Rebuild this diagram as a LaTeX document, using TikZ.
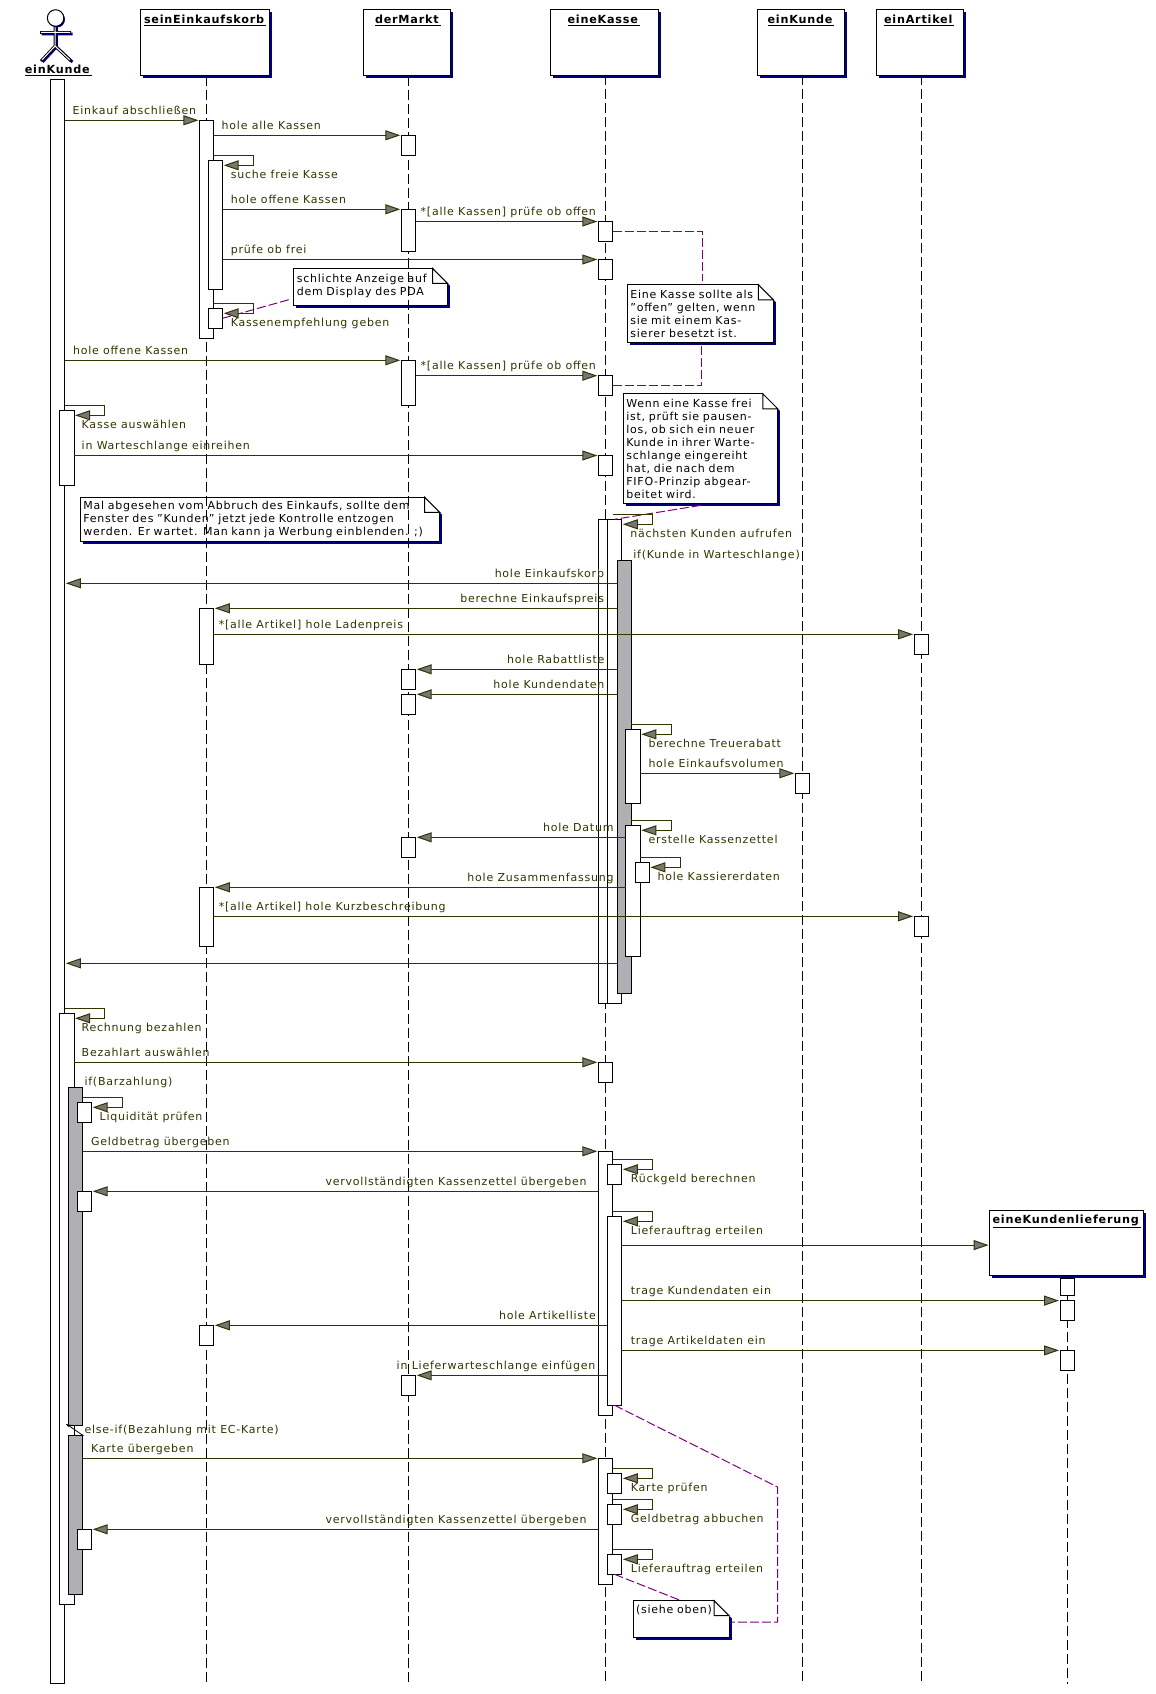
\documentclass[tikz,border=0pt]{standalone}
\usepackage{fontspec}
\setmainfont[LetterSpace=7]{DejaVu Sans}
\usetikzlibrary{arrows.meta,shadows}
\definecolor{msgline}{HTML}{333300}
\definecolor{tipfill}{HTML}{767676}
\definecolor{umlblue}{HTML}{000080}
\definecolor{notelink}{HTML}{800080}
\definecolor{nested}{HTML}{B0B0B4}

\tikzset{
	obj box/.style={draw,fill=white,anchor=north west,inner sep=0pt,outer sep=0pt,
		general shadow={fill=umlblue,shadow xshift=2.5pt,shadow yshift=-2.5pt}},
	obj name/.style={anchor=base west,inner sep=0pt,font=\fontsize{11.2}{13}\selectfont\bfseries},
	note box/.style={obj box,align=left,inner xsep=3pt,inner ysep=0pt,
		font=\fontsize{11}{13}\selectfont},
	act/.style={draw,fill=white,anchor=north,minimum width=14.4pt,inner sep=0pt,outer sep=0pt},
	gray act/.style={act,fill=nested},
	msg/.style={draw=msgline,-{Triangle[length=15pt,width=10pt,fill=tipfill]},shorten >=1pt},
	self call/.style={msg,to path={([yshift=5pt]\tikztotarget.north -| \tikztostart.east) -- ++(40,0)
		|- ([yshift=-5pt]\tikztotarget.north east)}},
	lbl/.style={anchor=base west,inner sep=0pt,text=msgline,font=\fontsize{11}{13}\selectfont},
	rlbl/.style={lbl,anchor=base east},
	link/.style={draw=notelink,dash pattern=on 9pt off 3pt},
	lifeline/.style={dash pattern=on 10pt off 4pt}
}

\begin{document}
\begin{tikzpicture}[x=1pt,y=-1pt,line width=1pt]
	\useasboundingbox (0,0) rectangle (1156,1694);

	% notes lie under everything else
	\node[note box,text width=147.7pt,minimum height=37.4pt] (n1) at (293.8,268.3)
		{schlichte Anzeige auf\\dem Display des PDA\\[-9pt]\mbox{}};
	\node[note box,text width=140pt,minimum height=57.2pt] (n2) at (627.4,284.8)
		{Eine Kasse sollte als\\"offen" gelten, wenn\\sie mit einem Kas-\\sierer besetzt ist.};
	\node[note box,text width=148.5pt,minimum height=109.6pt] (n3) at (623.3,393.8)
		{Wenn eine Kasse frei\\ist, prüft sie pausen-\\los, ob sich ein neuer\\Kunde in ihrer Warte-\\schlange eingereiht\\hat, die nach dem\\FIFO-Prinzip abgear-\\beitet wird.};
	\node[note box,text width=353.2pt,minimum height=44.4pt] (n4) at (80.4,497.3)
		{Mal abgesehen vom Abbruch des Einkaufs, sollte dem\\Fenster des "Kunden" jetzt jede Kontrolle entzogen\\werden. Er wartet. Man kann ja Werbung einblenden. ;)};
	\node[note box,text width=90pt,minimum height=37pt] (n5) at (633,1600.6)
		{(siehe oben)\\[6pt]\mbox{}};
	\foreach \n in {n1,n2,n3,n4,n5} {
		\fill[white] ([xshift=-15pt,yshift=1pt]\n.north east) -- ++(22pt,0pt) -- ++(0pt,-22pt) -- ([yshift=-15pt]\n.north east) -- cycle;
		\draw ([xshift=-15pt]\n.north east) |- ([yshift=-15pt]\n.north east) -- cycle;
	}

	% the objects
	\node[obj box,minimum width=129pt,minimum height=65.7pt] (korb) at (140.4,10) {};
	\node[obj box,minimum width=87pt,minimum height=65.7pt] (markt) at (363.4,10) {};
	\node[obj box,minimum width=108pt,minimum height=65pt] (kasse) at (550.3,10) {};
	\node[obj box,minimum width=87pt,minimum height=65pt] (kunde) at (757.5,10) {};
	\node[obj box,minimum width=87.6pt,minimum height=65pt] (artikel) at (876,10) {};
	\node[obj box,minimum width=154pt,minimum height=65.2pt] (liefer) at (989.6,1210.5) {};

	\node[obj name] (t1) at (143.5,23.5) {\underline{seinEinkaufskorb\,}};
	\node[obj name] (t2) at (374.5,23.5) {\underline{derMarkt\,}};
	\node[obj name] (t3) at (567,23.5) {\underline{eineKasse\,}};
	\node[obj name] (t4) at (767,23.5) {\underline{einKunde\,}};
	\node[obj name] (t5) at (883.5,23.5) {\underline{einArtikel\,}};
	\node[obj name] (t6) at (992,1223.5) {\underline{eineKundenlieferung\,}};
	\node[obj name] (t7) at (24.3,74) {\underline{einKunde\,}};

	% the actor
	\draw[umlblue,line width=2.8pt] (56.5,26) -- (56.5,47) (41.5,34) -- (72.5,34) (42.5,62) -- (56.5,47) -- (72.5,62);
	\draw[line width=2.8pt] (55,26) -- (55,46) (40,32.5) -- (71,32.5) (41,61) -- (55,46) -- (71,61);
	\draw[white,line width=1pt] (55,25) -- (55,46) (41,32.5) -- (70,32.5) (42,60) -- (55,46) -- (70,60);
	\fill[umlblue] (57,19.5) circle (8);
	\node[draw,fill=white,circle,minimum size=16.5pt,inner sep=0pt] (head) at (55.6,18) {};

	% lifelines
	\coordinate (bottom) at (0,1684);
	\foreach \n in {korb,markt,kasse,kunde,artikel} {
		\draw[lifeline] ([xshift=1.5pt]\n.south) -- ([xshift=1.5pt]\n.south |- bottom);
	}
	\draw[lifeline] ([xshift=.4pt]liefer.south) -- ([xshift=.4pt]liefer.south |- bottom);

	% activations of the actor
	\node[act,minimum height=1603.7pt] (1) at (57.6,79.3) {};
	\node[act,minimum height=75.4pt] (2) at (66.8,410.3) {};
	\node[act,minimum height=591pt] (3) at (66.8,1013.3) {};
	\node[gray act,minimum height=338pt] (4) at (75.5,1087.3) {};
	\node[gray act,minimum height=159pt] (5) at (75.5,1435.3) {};
	\node[act,minimum height=20pt] (6) at (84.5,1102.3) {};
	\node[act,minimum height=20pt] (7) at (84.5,1191.3) {};
	\node[act,minimum height=20pt] (8) at (84.5,1529.3) {};

	% activations of seinEinkaufskorb
	\node[act,minimum height=218pt] (11) at (206.6,120.3) {};
	\node[act,minimum height=129pt] (12) at (215.5,160.3) {};
	\node[act,minimum height=20pt] (13) at (215.5,308.3) {};
	\node[act,minimum height=56pt] (14) at (206.6,608.3) {};
	\node[act,minimum height=59pt] (15) at (206.6,887.3) {};
	\node[act,minimum height=20pt] (16) at (206.6,1325.3) {};

	% activations of derMarkt
	\node[act,minimum height=20pt] (21) at (408.5,135.3) {};
	\node[act,minimum height=42pt] (22) at (408.5,209.3) {};
	\node[act,minimum height=45.4pt] (23) at (408.5,360.3) {};
	\node[act,minimum height=20pt] (24) at (408.5,669.3) {};
	\node[act,minimum height=20pt] (25) at (408.5,694.3) {};
	\node[act,minimum height=20pt] (26) at (408.5,837.3) {};
	\node[act,minimum height=20pt] (27) at (408.5,1375.3) {};

	% activations of eineKasse
	\node[act,minimum height=20pt] (31) at (605.5,221.5) {};
	\node[act,minimum height=20pt] (32) at (605.5,259.5) {};
	\node[act,minimum height=20pt] (33) at (605.5,375.7) {};
	\node[act,minimum height=20pt] (34) at (605.5,455.5) {};
	\node[act,minimum height=484pt] (35) at (605.5,519.3) {};
	\node[act,minimum height=484pt] (36) at (614.6,519.3) {};
	\node[gray act,minimum height=433pt] (37) at (624.2,560.3) {};
	\node[act,minimum height=74pt] (38) at (633.1,729.3) {};
	\node[act,minimum height=131pt] (39) at (633.1,825.3) {};
	\node[act,minimum height=20pt] (40) at (642.2,862.3) {};
	\node[act,minimum height=20pt] (41) at (605.5,1062.3) {};
	\node[act,minimum height=264pt] (42) at (605.5,1151.3) {};
	\node[act,minimum height=20pt] (43) at (614.6,1164.3) {};
	\node[act,minimum height=189pt] (44) at (614.6,1216.3) {};
	\node[act,minimum height=126pt] (45) at (605.5,1458.3) {};
	\node[act,minimum height=20pt] (46) at (614.6,1473.3) {};
	\node[act,minimum height=20pt] (47) at (614.6,1504.3) {};
	\node[act,minimum height=20pt] (48) at (614.6,1554.3) {};

	% activations of the other three
	\node[act,minimum height=20pt] (51) at (802.5,773.3) {};
	\node[act,minimum height=20pt] (61) at (921.3,634.3) {};
	\node[act,minimum height=20pt] (62) at (921.3,916.3) {};
	\node[act,minimum height=17.2pt] (71) at (1067.2,1278.6) {};
	\node[act,minimum height=20pt] (72) at (1067.2,1300.6) {};
	\node[act,minimum height=20pt] (73) at (1067.2,1350.4) {};

	% note links
	\draw[link] ([xshift=-5pt,yshift=6pt]n1.south west) -- (13.east);
	\draw[link] (31.east) -| ([xshift=2pt,yshift=4pt]n2.north);
	\draw[link] (33.east) -| ([xshift=1.5pt,yshift=-2pt]n2.south);
	\draw[link] ([yshift=-2pt]n3.south) -- (36.north);
	\coordinate (bend) at (777.5,1487);
	\draw[link] (44.south) -- (bend) |- ([xshift=2.5pt,yshift=-3pt]n5.east);
	\draw[link] (48.south) -- (n5.north);

	% free ends of the messages that start or end on no bar top
	\coordinate (m1) at (37.west |- 0,583.3);
	\coordinate (m2) at (37.west |- 0,963.3);
	\coordinate (m3) at ([yshift=-2pt]liefer.west);

	% messages
	\path[every edge/.append style={msg}]
	(1.east |- 11.north west) edge (11.north west)
	(11.east |- 21.north west) edge (21.north west)
	(12.east |- 22.north west) edge (22.north west)
	(22.east |- 31.north west) edge (31.north west)
	(12.east |- 32.north west) edge (32.north west)
	(1.east |- 23.north west) edge (23.north west)
	(23.east |- 33.north west) edge (33.north west)
	(2.east |- 34.north west) edge (34.north west)
	(m1) edge (1.east |- m1)
	(37.west |- 14.north east) edge (14.north east)
	(14.east |- 61.north west) edge (61.north west)
	(37.west |- 24.north east) edge (24.north east)
	(37.west |- 25.north east) edge (25.north east)
	(38.east |- 51.north west) edge (51.north west)
	(39.west |- 26.north east) edge (26.north east)
	(39.west |- 15.north east) edge (15.north east)
	(15.east |- 62.north west) edge (62.north west)
	(m2) edge (1.east |- m2)
	(3.east |- 41.north west) edge (41.north west)
	(4.east |- 42.north west) edge (42.north west)
	(42.west |- 7.north east) edge (7.north east)
	(44.east |- m3) edge (m3)
	(44.east |- 72.north west) edge (72.north west)
	(44.east |- 73.north west) edge (73.north west)
	(44.west |- 16.north east) edge (16.north east)
	(44.west |- 27.north east) edge (27.north east)
	(5.east |- 45.north west) edge (45.north west)
	(45.west |- 8.north east) edge (8.north east);

	\path
	(11) edge[self call] (12)
	(11) edge[self call] (13)
	(1) edge[self call] (2)
	(1) edge[self call] (3)
	(35) edge[self call] (36)
	(37) edge[self call] (38)
	(37) edge[self call] (39)
	(39) edge[self call] (40)
	(4) edge[self call] (6)
	(42) edge[self call] (43)
	(42) edge[self call] (44)
	(45) edge[self call] (46)
	(45) edge[self call] (47)
	(45) edge[self call] (48);

	% the else branch
	\draw[line width=.8pt] (4.south west) -- (5.north east) (4.south west) -- ++(4,0) (4.south west) -- ++(-2,-1);
	\fill (4.south west) circle (1.5) (5.north east) circle (1);

	% message labels
	\node[lbl] (a1) at (72.2,114) {Einkauf abschließen};
	\node[lbl] (a2) at (221.2,129) {hole alle Kassen};
	\node[lbl] (a3) at (230.4,178) {suche freie Kasse};
	\node[lbl] (a4) at (230.4,203) {hole offene Kassen};
	\node[lbl] (a5) at (420.2,215) {*[alle Kassen] prüfe ob offen};
	\node[lbl] (a6) at (230.4,253) {prüfe ob frei};
	\node[lbl] (a7) at (230.4,326) {Kassenempfehlung geben};
	\node[lbl] (a8) at (72.6,354) {hole offene Kassen};
	\node[lbl] (a9) at (420.2,369) {*[alle Kassen] prüfe ob offen};
	\node[lbl] (a10) at (81.2,428) {Kasse auswählen};
	\node[lbl] (a11) at (81.2,449) {in Warteschlange einreihen};
	\node[lbl] (a12) at (629.9,537) {nächsten Kunden aufrufen};
	\node[lbl] (a13) at (632.9,558) {if(Kunde in Warteschlange)};
	\node[rlbl] (a14) at (604.5,577) {hole Einkaufskorb};
	\node[rlbl] (a15) at (604.5,602) {berechne Einkaufspreis};
	\node[lbl] (a16) at (218.4,628) {*[alle Artikel] hole Ladenpreis};
	\node[rlbl] (a17) at (604.9,663) {hole Rabattliste};
	\node[rlbl] (a18) at (604.9,688) {hole Kundendaten};
	\node[lbl] (a19) at (648,747) {berechne Treuerabatt};
	\node[lbl] (a20) at (648,767) {hole Einkaufsvolumen};
	\node[rlbl] (a21) at (614,831) {hole Datum};
	\node[lbl] (a22) at (648,843) {erstelle Kassenzettel};
	\node[lbl] (a23) at (657.1,880) {hole Kassiererdaten};
	\node[rlbl] (a24) at (614,881) {hole Zusammenfassung};
	\node[lbl] (a25) at (218.3,910) {*[alle Artikel] hole Kurzbeschreibung};
	\node[lbl] (a26) at (81.2,1031) {Rechnung bezahlen};
	\node[lbl] (a27) at (81.2,1056) {Bezahlart auswählen};
	\node[lbl] (a28) at (84,1085) {if(Barzahlung)};
	\node[lbl] (a29) at (99.2,1120) {Liquidität prüfen};
	\node[lbl] (a30) at (90.6,1145) {Geldbetrag übergeben};
	\node[rlbl] (a31) at (587,1185) {vervollständigten Kassenzettel übergeben};
	\node[lbl] (a32) at (630.4,1182) {Rückgeld berechnen};
	\node[lbl] (a33) at (630.4,1234) {Lieferauftrag erteilen};
	\node[lbl] (a34) at (630.4,1294.6) {trage Kundendaten ein};
	\node[rlbl] (a35) at (596.3,1319) {hole Artikelliste};
	\node[lbl] (a36) at (630.4,1344.4) {trage Artikeldaten ein};
	\node[rlbl] (a37) at (595.9,1369) {in Lieferwarteschlange einfügen};
	\node[lbl] (a38) at (84,1433) {else-if(Bezahlung mit EC-Karte)};
	\node[lbl] (a39) at (90.6,1452) {Karte übergeben};
	\node[rlbl] (a40) at (587,1523) {vervollständigten Kassenzettel übergeben};
	\node[lbl] (a41) at (630.4,1491) {Karte prüfen};
	\node[lbl] (a42) at (630.4,1522) {Geldbetrag abbuchen};
	\node[lbl] (a43) at (630.4,1572) {Lieferauftrag erteilen};
\end{tikzpicture}
\end{document}
